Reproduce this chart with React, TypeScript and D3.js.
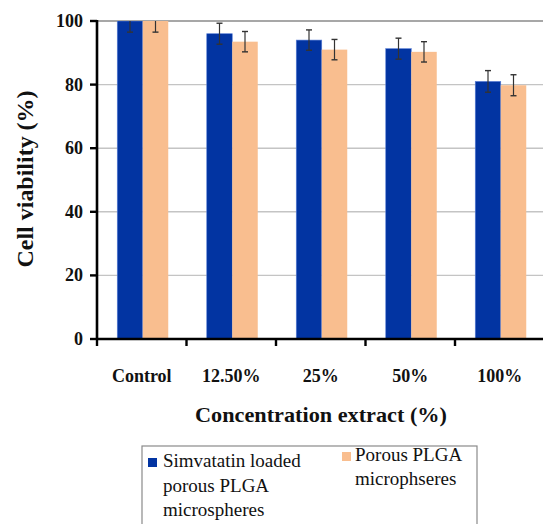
import React from "react";
import * as d3 from "d3";

const categories = ["Control", "12.50%", "25%", "50%", "100%"];
const seriesNames = ["Simvatatin loaded porous PLGA microspheres", "Porous PLGA microphseres"];
const simvastatinValues = [100, 96, 94, 91.3, 81];
const simvastatinErrors = [3.5, 3.3, 3.2, 3.3, 3.4];
const porousValues = [100, 93.5, 91, 90.3, 79.8];
const porousErrors = [3.5, 3.2, 3.2, 3.2, 3.3];
const yTicks = [0, 20, 40, 60, 80, 100];

const W = 543;
const H = 524;
const serif = "Liberation Serif, DejaVu Serif, serif";
const colors = ["#0234a2", "#f9be8f"];

export default function App() {
  const x = d3.scaleBand<string>().domain(categories).range([97, 544.5]).padding(0);
  const xs = d3.scaleBand<string>().domain(["a", "b"]).range([0, x.bandwidth()]).paddingInner(0).paddingOuter(0.755);
  const y = d3.scaleLinear().domain([0, 100]).range([339, 21]);

  const series = [
    { key: "a", values: simvastatinValues, errors: simvastatinErrors, color: colors[0] },
    { key: "b", values: porousValues, errors: porousErrors, color: colors[1] },
  ];

  const boundaries = categories.map((c) => x(c) as number).concat([(x(categories[4]) as number) + x.bandwidth()]);

  return (
    <svg width={W} height={H} style={{ position: "absolute", left: 0, top: 0, background: "#fff", fontFamily: serif }}>
      <defs>
        <clipPath id="plot">
          <rect x={97} y={y(100)} width={W - 97} height={y(0) - y(100)} />
        </clipPath>
      </defs>
      {yTicks.filter((t) => t > 0).map((t) => (
        <line key={t} x1={97} x2={W} y1={y(t)} y2={y(t)} stroke={t === 100 ? "#8a8a8a" : "#c4c4c4"} strokeWidth={t === 100 ? 1.6 : 1.4} />
      ))}
      <g clipPath="url(#plot)">
        {series.map((s) =>
          categories.map((c, i) => {
            const bx = (x(c) as number) + (xs(s.key) as number) + 1;
            const bw = xs.bandwidth();
            const v = s.values[i];
            const e = s.errors[i];
            const cx = bx + bw / 2;
            return (
              <g key={s.key + c}>
                <rect x={bx} y={y(v)} width={bw} height={y(0) - y(v)} fill={s.color} stroke={s.key === "a" ? "#5a7fd6" : "none"} strokeWidth={0.6} />
                <line x1={cx} x2={cx} y1={y(v + e)} y2={y(v - e)} stroke="#333" strokeWidth={1.2} />
                <line x1={cx - 3} x2={cx + 3} y1={y(v + e)} y2={y(v + e)} stroke="#333" strokeWidth={1.4} />
                <line x1={cx - 3} x2={cx + 3} y1={y(v - e)} y2={y(v - e)} stroke="#333" strokeWidth={1.4} />
              </g>
            );
          })
        )}
      </g>
      <line x1={97} x2={97} y1={y(100) - 1} y2={y(0) + 1} stroke="#000" strokeWidth={2.6} />
      {yTicks.map((t) => (
        <g key={t}>
          <line x1={90} x2={97} y1={y(t)} y2={y(t)} stroke="#000" strokeWidth={2.4} />
          <text x={83} y={y(t) + 6} textAnchor="end" fontFamily={serif} fontWeight="bold" fontSize={18} fill="#111">
            {t}
          </text>
        </g>
      ))}
      <line x1={96} x2={W} y1={y(0)} y2={y(0)} stroke="#000" strokeWidth={2.6} />
      {boundaries.map((b, i) => (
        <line key={i} x1={b} x2={b} y1={y(0)} y2={y(0) + 7} stroke="#000" strokeWidth={2.4} />
      ))}
      {categories.map((c) => (
        <text key={c} x={(x(c) as number) + x.bandwidth() / 2} y={382} textAnchor="middle" fontFamily={serif} fontWeight="bold" fontSize={18} fill="#111">
          {c}
        </text>
      ))}
      <text x={321} y={422} textAnchor="middle" fontFamily={serif} fontWeight="bold" fontSize={22} fill="#111" textLength={252} lengthAdjust="spacingAndGlyphs">
        Concentration extract (%)
      </text>
      <text transform={`translate(33,179) rotate(-90)`} textAnchor="middle" fontFamily={serif} fontWeight="bold" fontSize={23} fill="#111" textLength={177} lengthAdjust="spacingAndGlyphs">
        Cell viability (%)
      </text>
      <rect x={142} y={446} width={335} height={H + 10 - 446} fill="#fff" stroke="#8a8a8a" strokeWidth={1.2} />
      <rect x={148} y={458} width={9} height={9} fill={colors[0]} />
      <text fontFamily={serif} fontSize={19} fill="#111">
        <tspan x={163} y={467}>Simvatatin loaded</tspan>
        <tspan x={163} y={492}>porous PLGA</tspan>
        <tspan x={163} y={516}>microspheres</tspan>
      </text>
      <rect x={342} y={452} width={9} height={9} fill={colors[1]} />
      <text fontFamily={serif} fontSize={19} fill="#111">
        <tspan x={355} y={461}>Porous PLGA</tspan>
        <tspan x={355} y={485}>microphseres</tspan>
      </text>
    </svg>
  );
}
